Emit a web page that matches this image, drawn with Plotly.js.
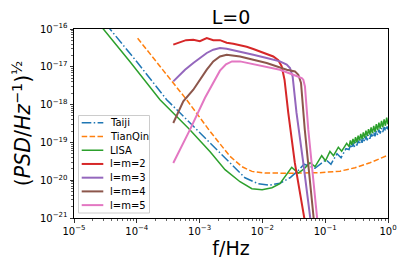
<!DOCTYPE html>
<html>
<head>
<meta charset="utf-8">
<script src="https://cdn.plot.ly/plotly-3.0.1.min.js"></script>
<style>html,body{margin:0;padding:0;background:#fff;}#chart{width:407px;height:271px;}</style>
</head>
<body>
<div id="chart"></div>
<script>
// ---- data ----
const freqLISA = [2.5e-5, 2.93e-5, 7.8e-5, 2.34e-4, 6.7e-4, 1.47e-3, 2.54e-3, 4.4e-3, 6.8e-3, 9.9e-3,
  1.42e-2, 1.9e-2, 2.38e-2, 2.93e-2, 3.73e-2, 4.6e-2, 5.73e-2, 6.9e-2, 8.8e-2, 0.101,
  0.119, 0.1355, 0.162, 0.183, 0.22,
  0.2399, 0.2518, 0.2636, 0.2767, 0.2904, 0.3041, 0.3192, 0.3350, 0.3508, 0.3681,
  0.3864, 0.4046, 0.4246, 0.4457, 0.4667, 0.4898, 0.5140, 0.5383, 0.5649, 0.5929,
  0.6209, 0.6516, 0.6839, 0.7161, 0.7516, 0.7889, 0.8260, 0.8670, 0.9099, 0.9528, 1.0];
const asdLISA = [1.38e-16, 1.0e-16, 1.36e-17, 1.35e-18, 2.34e-19, 5.67e-20, 1.9e-20, 9.1e-21, 5.96e-21, 5.6e-21,
  6.3e-21, 8.1e-21, 1.31e-20, 2.18e-20, 1.55e-20, 2.0e-20, 2.9e-20, 2.28e-20, 4.45e-20, 3.28e-20,
  5.78e-20, 4.45e-20, 7.46e-20, 5.85e-20, 9.5e-20,
  7.73e-20, 1.13e-19, 8.45e-20, 1.24e-19, 9.27e-20, 1.37e-19, 1.01e-19, 1.51e-19, 1.11e-19, 1.67e-19,
  1.22e-19, 1.84e-19, 1.33e-19, 2.04e-19, 1.46e-19, 2.25e-19, 1.60e-19, 2.48e-19, 1.75e-19, 2.75e-19,
  1.91e-19, 3.03e-19, 2.10e-19, 3.34e-19, 2.30e-19, 3.70e-19, 2.52e-19, 4.08e-19, 2.76e-19, 4.51e-19, 3.02e-19];

const freqTaiji = [3.2e-5, 3.74e-5, 1.0e-4, 2.99e-4, 8.6e-4, 1.89e-3, 3.28e-3, 5.28e-3, 8.5e-3, 1.32e-2,
  1.9e-2, 2.75e-2, 3.69e-2, 4.6e-2, 6.89e-2, 0.103, 0.1236, 0.154, 0.179, 0.214,
  0.2399, 0.2518, 0.2636, 0.2767, 0.2904, 0.3041, 0.3192, 0.3350, 0.3508, 0.3681,
  0.3864, 0.4046, 0.4246, 0.4457, 0.4667, 0.4898, 0.5140, 0.5383, 0.5649, 0.5929,
  0.6209, 0.6516, 0.6839, 0.7161, 0.7516, 0.7889, 0.8260, 0.8670, 0.9099, 0.9528, 1.0];
const asdTaiji = [1.37e-16, 1.0e-16, 1.36e-17, 1.35e-18, 2.34e-19, 6.4e-20, 2.42e-20, 1.16e-20, 8.1e-21, 7.4e-21,
  8.3e-21, 1.16e-20, 1.78e-20, 2.65e-20, 2.07e-20, 3.48e-20, 2.65e-20, 5.02e-20, 3.94e-20, 6.8e-20,
  6.46e-20, 8.87e-20, 7.0e-20, 9.62e-20, 7.6e-20, 1.04e-19, 8.24e-20, 1.13e-19, 8.95e-20, 1.23e-19,
  9.73e-20, 1.33e-19, 1.05e-19, 1.45e-19, 1.14e-19, 1.57e-19, 1.24e-19, 1.70e-19, 1.35e-19, 1.85e-19,
  1.46e-19, 2.0e-19, 1.58e-19, 2.18e-19, 1.72e-19, 2.36e-19, 1.87e-19, 2.56e-19, 2.03e-19, 2.78e-19, 2.2e-19];

const freqTianQin = [1.03e-4, 2.34e-4, 6.2e-4, 1.47e-3, 3.05e-3, 4.73e-3, 6.82e-3, 1.1e-2, 2.75e-2, 8.26e-2, 0.172, 0.299, 0.516, 1.0];
const asdTianQin = [5.7e-17, 1.03e-17, 1.35e-18, 1.95e-19, 4.27e-20, 2.28e-20, 1.71e-20, 1.55e-20, 1.53e-20, 1.58e-20, 1.73e-20, 2.14e-20, 2.9e-20, 4.58e-20];

const freqL2 = [3.81e-4, 4.88e-4, 6.07e-4, 7.94e-4, 1.01e-3, 1.3e-3, 1.65e-3, 2.11e-3, 2.7e-3, 3.44e-3,
  4.4e-3, 5.62e-3, 7.16e-3, 9.16e-3, 1.17e-2, 1.49e-2, 1.79e-2, 2.03e-2, 2.25e-2, 2.58e-2,
  3.28e-2, 4.68e-2, 5.07e-2];
const hL2 = [3.85e-17, 4.48e-17, 5.06e-17, 5.21e-17, 4.75e-17, 5.78e-17, 5.06e-17, 5.06e-17, 4.35e-17, 4.08e-17,
  3.73e-17, 3.4e-17, 2.96e-17, 2.55e-17, 2.22e-17, 1.88e-17, 1.5e-17, 1.03e-17, 4.56e-18, 6.1e-19,
  2.9e-20, 1e-21, 4.3e-22];

const freqL3 = [3.81e-4, 4.88e-4, 5.86e-4, 7.94e-4, 1.01e-3, 1.3e-3, 1.65e-3, 2.11e-3, 2.7e-3, 4.4e-3,
  7.16e-3, 1.17e-2, 1.9e-2, 2.44e-2, 2.75e-2, 3.03e-2, 3.49e-2, 4.47e-2, 5.69e-2, 6.17e-2];
const hL3 = [4.11e-18, 6.18e-18, 8.38e-18, 1.26e-17, 1.71e-17, 2.32e-17, 2.83e-17, 3.14e-17, 3.01e-17, 2.55e-17,
  2.09e-17, 1.71e-17, 1.39e-17, 1.14e-17, 9.29e-18, 5.57e-18, 6.1e-19, 2.9e-20, 1e-21, 4.3e-22];

const freqL4 = [3.81e-4, 5.5e-4, 7.94e-4, 1.01e-3, 1.3e-3, 1.65e-3, 2.11e-3, 2.7e-3, 4.4e-3, 7.16e-3,
  1.17e-2, 2.44e-2, 3.3e-2, 3.73e-2, 4.12e-2, 4.73e-2, 5.69e-2, 6.4e-2, 6.89e-2];
const hL4 = [3.26e-19, 1.22e-18, 2.48e-18, 4.56e-18, 8.38e-18, 1.39e-17, 1.88e-17, 2.09e-17, 1.88e-17, 1.54e-17,
  1.26e-17, 8.38e-18, 7.55e-18, 6.18e-18, 3.73e-18, 2.17e-19, 1.03e-20, 1e-21, 4.3e-22];

const freqL5 = [3.81e-4, 7.03e-4, 1.22e-3, 1.63e-3, 2.11e-3, 2.63e-3, 3.28e-3, 4.4e-3, 7.16e-3, 1.17e-2,
  1.9e-2, 3.1e-2, 4.23e-2, 4.48e-2, 4.76e-2, 5.38e-2, 6.47e-2, 7.33e-2, 7.82e-2];
const hL5 = [2.85e-20, 2.17e-19, 1.52e-18, 3.79e-18, 7.89e-18, 1.17e-17, 1.39e-17, 1.39e-17, 1.19e-17, 9.89e-18,
  8.38e-18, 6.18e-18, 5.06e-18, 4.56e-18, 3.03e-18, 2.17e-19, 1.03e-20, 1e-21, 4.3e-22];

const seriesNames = ['Taiji', 'TianQin', 'LISA', 'l=m=2', 'l=m=3', 'l=m=4', 'l=m=5'];
const seriesColors = ['#1f77b4', '#ff7f0e', '#2ca02c', '#d62728', '#9467bd', '#8c564b', '#e377c2'];

const xTickVals = [1e-5, 1e-4, 1e-3, 1e-2, 1e-1, 1];
const xTickText = ['10<sup>−5</sup>', '10<sup>−4</sup>', '10<sup>−3</sup>', '10<sup>−2</sup>', '10<sup>−1</sup>', '10<sup>0</sup>'];
const yTickVals = [1e-21, 1e-20, 1e-19, 1e-18, 1e-17, 1e-16];
const yTickText = ['10<sup>−21</sup>', '10<sup>−20</sup>', '10<sup>−19</sup>', '10<sup>−18</sup>', '10<sup>−17</sup>', '10<sup>−16</sup>'];

// ---- styling ----
const FONT = 'DejaVu Sans, Liberation Sans, sans-serif';
const dashes = ['9.6px,2.4px,1.5px,2.4px', '5.5px,2.4px', 'solid', 'solid', 'solid', 'solid', 'solid'];
const widths = [1.5, 1.5, 1.5, 2, 2, 2, 2];
const xs = [freqTaiji, freqTianQin, freqLISA, freqL2, freqL3, freqL4, freqL5];
const ys = [asdTaiji, asdTianQin, asdLISA, hL2, hL3, hL4, hL5];

const traces = seriesNames.map((n, i) => ({
  type: 'scatter', mode: 'lines', name: n, x: xs[i], y: ys[i],
  line: {color: seriesColors[i], width: widths[i], dash: dashes[i]},
  showlegend: false, hoverinfo: 'x+y+name'
}));

function minorVals(lo, hi) {
  const v = [];
  for (let e = lo; e < hi; e++) for (let m = 2; m <= 9; m++) v.push(m * Math.pow(10, e));
  return v;
}

// manual legend (matplotlib-like compact layout)
const L = 74, T = 29, W = 314, H = 189;
const px = x => (x - L) / W;
const py = y => (T + H - y) / H;
const shapes = [{
  type: 'rect', xref: 'paper', yref: 'paper',
  x0: px(78.5), x1: px(149.5), y0: py(213), y1: py(115.5),
  line: {color: '#cccccc', width: 1}, fillcolor: 'rgba(255,255,255,0.85)', layer: 'above'
}];
const annotations = [];
seriesNames.forEach((n, i) => {
  const yc = 122.8 + 13.72 * i;
  shapes.push({type: 'line', xref: 'paper', yref: 'paper', x0: px(81.7), x1: px(103.3), y0: py(yc), y1: py(yc),
    line: {color: seriesColors[i], width: widths[i], dash: dashes[i]}, layer: 'above'});
  annotations.push({xref: 'paper', yref: 'paper', x: px(108.3), y: py(yc), xanchor: 'left', yanchor: 'middle',
    text: n, showarrow: false, font: {family: FONT, size: 10, color: '#000'}});
});

const axisCommon = {
  type: 'log', showgrid: false, zeroline: false,
  showline: true, linecolor: '#000', linewidth: 1, mirror: true,
  ticks: 'outside', ticklen: 3.5, tickwidth: 0.8, tickcolor: '#000',
  tickmode: 'array', tickfont: {family: FONT, size: 10, color: '#000'}
};

const layout = {
  width: 407, height: 271,
  margin: {l: 74, r: 19, t: 29, b: 53, pad: 0},
  paper_bgcolor: '#fff', plot_bgcolor: '#fff',
  font: {family: FONT, color: '#000'},
  title: {text: 'L=0', x: 0.5, xref: 'paper', y: 1 - 17.5 / 271, yref: 'container', yanchor: 'middle', xanchor: 'center',
    font: {family: FONT, size: 19, color: '#000'}},
  xaxis: Object.assign({}, axisCommon, {
    range: [-5, 0], tickvals: xTickVals, ticktext: xTickText,
    minor: {tickmode: 'array', tickvals: minorVals(-5, 0), ticks: 'outside', ticklen: 2, tickwidth: 0.6, tickcolor: '#000', showgrid: false},
    title: {text: 'f/Hz', font: {family: FONT, size: 19, color: '#000'}, standoff: 6}
  }),
  yaxis: Object.assign({}, axisCommon, {
    range: [-21, -16], tickvals: yTickVals, ticktext: yTickText,
    minor: {tickmode: 'array', tickvals: minorVals(-21, -16), ticks: 'outside', ticklen: 2, tickwidth: 0.6, tickcolor: '#000', showgrid: false},
    title: {text: '(<i>PSD</i>/<i>Hz</i><sup>−1</sup>)<sup>½</sup>', font: {family: FONT, size: 20.5, color: '#000'}, standoff: 3}
  }),
  shapes: shapes,
  annotations: annotations,
  showlegend: false
};

Plotly.newPlot('chart', traces, layout, {displayModeBar: false, staticPlot: true});
</script>
</body>
</html>
